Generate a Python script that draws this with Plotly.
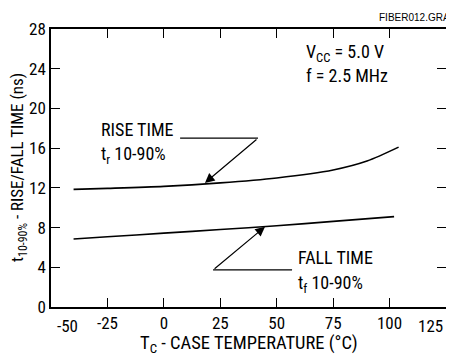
import plotly.graph_objects as go

# ---- data ----
temp_rise = [-40, -25, 0, 25, 50, 75, 90, 104]
rise_ns = [11.85, 11.95, 12.15, 12.5, 13.0, 13.8, 14.7, 16.1]
temp_fall = [-40, -25, 0, 25, 50, 75, 102]
fall_ns = [6.85, 7.07, 7.44, 7.8, 8.18, 8.62, 9.1]

x_ticks = [-50, -25, 0, 25, 50, 75, 100, 125]
y_ticks = [0, 4, 8, 12, 16, 20, 24, 28]

FONT = "Liberation Sans Narrow, Arial Narrow, Roboto Condensed, DejaVu Sans Condensed, Liberation Sans, sans-serif"

fig = go.Figure()
fig.add_trace(go.Scatter(x=temp_rise, y=rise_ns, mode="lines",
                         line=dict(color="black", width=1.6, shape="spline", smoothing=0.8),
                         showlegend=False, hoverinfo="skip"))
fig.add_trace(go.Scatter(x=temp_fall, y=fall_ns, mode="lines",
                         line=dict(color="black", width=1.6, shape="spline", smoothing=0.6),
                         showlegend=False, hoverinfo="skip"))

# inner tick labels via axis, edge labels via annotations (shifted inward)
inner_text = [("" if v in (x_ticks[0], x_ticks[-1]) else str(v)) for v in x_ticks]

fig.update_xaxes(range=[-50, 125], tickvals=x_ticks, ticktext=inner_text,
                 ticks="inside", ticklen=9, tickwidth=1.2, tickcolor="black",
                 showline=True, linewidth=1.5, linecolor="black", mirror="ticks",
                 showgrid=False, zeroline=False, automargin=False,
                 tickfont=dict(family=FONT, size=17, color="black"))
fig.update_yaxes(range=[0, 28], tickvals=y_ticks,
                 ticks="inside", ticklen=9, tickwidth=1.2, tickcolor="black",
                 showline=True, linewidth=1.5, linecolor="black", mirror="ticks",
                 showgrid=False, zeroline=False, automargin=False,
                 tickfont=dict(family=FONT, size=17, color="black"))

lf = dict(family=FONT, size=17, color="black")
annos = []
annos.append(dict(x=-42.5, y=0, xref="x", yref="y", text=str(x_ticks[0]), showarrow=False,
                  yanchor="top", yshift=-7, font=lf))
annos.append(dict(x=118, y=0, xref="x", yref="y", text=str(x_ticks[-1]), showarrow=False,
                  yanchor="top", yshift=-7, font=lf))
# axis titles
annos.append(dict(x=0.5, y=0, xref="paper", yref="paper", yanchor="middle", yshift=-37,
                  text="T<sub>C</sub> - CASE TEMPERATURE (°C)", showarrow=False, borderpad=0,
                  font=dict(family=FONT, size=18.5, color="black")))
annos.append(dict(x=0, y=0.5, xref="paper", yref="paper", xanchor="center", xshift=-33,
                  textangle=-90, text="t<sub>10-90%</sub> - RISE/FALL TIME (ns)", showarrow=False,
                  borderpad=0, font=dict(family=FONT, size=17, color="black")))

tf = dict(family=FONT, size=18, color="black")
annos += [
    dict(x=62.5, y=25.6, text="V<sub>CC</sub> = 5.0 V", showarrow=False, xanchor="left", font=tf, borderpad=0),
    dict(x=62.5, y=23.3, text="f = 2.5 MHz", showarrow=False, xanchor="left", font=tf, borderpad=0),
    dict(x=-28.5, y=17.9, text="RISE TIME", showarrow=False, xanchor="left", font=tf, borderpad=0),
    dict(x=-28.5, y=15.3, text="t<sub>r</sub> 10-90%", showarrow=False, xanchor="left", font=tf, borderpad=0),
    dict(x=58.8, y=5.0, text="FALL TIME", showarrow=False, xanchor="left", font=tf, borderpad=0),
    dict(x=58.8, y=2.3, text="t<sub>f</sub> 10-90%", showarrow=False, xanchor="left", font=tf, borderpad=0),
    # arrows
    dict(x=18.2, y=12.5, ax=41.7, ay=17.0, axref="x", ayref="y", xref="x", yref="y",
         text="", showarrow=True, arrowhead=2, arrowsize=1.6, arrowwidth=1.2, arrowcolor="black"),
    dict(x=44.8, y=8.08, ax=21.8, ay=3.73, axref="x", ayref="y", xref="x", yref="y",
         text="", showarrow=True, arrowhead=2, arrowsize=1.6, arrowwidth=1.2, arrowcolor="black"),
    dict(x=0.825, y=1.068, xref="paper", yref="paper", text="FIBER012.GRA", showarrow=False,
         xanchor="left", font=dict(family="Liberation Sans, Arial, sans-serif", size=10, color="black")),
]
for a in annos:
    a.setdefault("xref", "x")
    a.setdefault("yref", "y")
fig.update_layout(annotations=annos)

fig.add_shape(type="line", x0=7.2, x1=41.7, y0=17.0, y1=17.0, xref="x", yref="y",
              line=dict(color="black", width=1.2))
fig.add_shape(type="line", x0=21.8, x1=56.8, y0=3.73, y1=3.73, xref="x", yref="y",
              line=dict(color="black", width=1.2))

# the page body adds an 8px offset; figure sized so plot area lands where the reference has it
fig.update_layout(width=446, height=347, margin=dict(l=43, r=8, t=21, b=48),
                  paper_bgcolor="white", plot_bgcolor="white",
                  font=dict(family=FONT, color="black"))
fig.write_html("out.html")
